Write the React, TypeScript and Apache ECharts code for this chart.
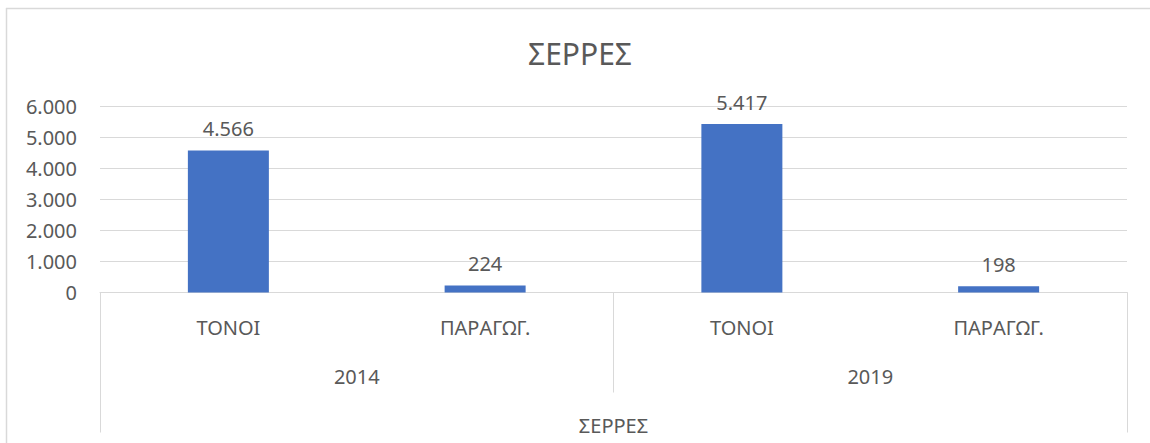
import React, { useEffect, useRef } from "react";
import * as echarts from "echarts";

const chartTitle = "ΣΕΡΡΕΣ";
const categories = ["ΤΟΝΟΙ", "ΠΑΡΑΓΩΓ.", "ΤΟΝΟΙ", "ΠΑΡΑΓΩΓ."];
const years = ["2014", "2019"];
const regions = ["ΣΕΡΡΕΣ"];
const values = [4566, 224, 5417, 198];

const TEXT = "#595959";
const LINE = "#D9D9D9";
const FONT = "Noto Sans";

const fmt = (n: number) => String(n).replace(/\B(?=(\d{3})+(?!\d))/g, ".");

export default function App() {
  const ref = useRef<HTMLDivElement>(null);
  useEffect(() => {
    if (!ref.current) return;
    const chart = echarts.init(ref.current, null, { renderer: "svg" });
    chart.setOption({
      animation: false,
      textStyle: { fontFamily: FONT, color: TEXT },
      graphic: [
        { type: "line", shape: { x1: 6.5, y1: 8, x2: 6.5, y2: 443 }, style: { stroke: LINE, lineWidth: 1.5 } },
        { type: "line", shape: { x1: 6, y1: 8.5, x2: 1150, y2: 8.5 }, style: { stroke: LINE, lineWidth: 1.5 } },
        {
          type: "text",
          x: 580,
          y: 53,
          style: {
            text: chartTitle,
            fontSize: 30,
            fontFamily: FONT,
            fill: TEXT,
            textAlign: "center",
            textVerticalAlign: "middle",
          },
        },
      ],
      grid: { left: 100, right: 23, top: 106, bottom: 150.5, containLabel: false },
      yAxis: {
        type: "value",
        min: 0,
        max: 6000,
        interval: 1000,
        axisLine: { show: false },
        axisTick: { show: false },
        axisLabel: { margin: 23, fontSize: 20, color: TEXT, fontFamily: FONT, formatter: (v: number) => fmt(v) },
        splitLine: { lineStyle: { color: LINE, width: 1 } },
      },
      xAxis: [
        {
          type: "category",
          data: categories,
          position: "bottom",
          axisLine: { show: true, lineStyle: { color: LINE, width: 1 } },
          axisTick: { show: false },
          axisLabel: { interval: 0, margin: 25, fontSize: 20, lineHeight: 20, color: TEXT, fontFamily: FONT },
        },
        {
          type: "category",
          data: years,
          position: "bottom",
          axisLine: { show: false },
          axisTick: { show: true, interval: 0, length: 100, lineStyle: { color: LINE, width: 1 } },
          axisLabel: { interval: 0, margin: 74, fontSize: 20, lineHeight: 20, color: TEXT, fontFamily: FONT },
        },
        {
          type: "category",
          data: regions,
          position: "bottom",
          axisLine: { show: false },
          axisTick: { show: true, interval: 0, length: 140, lineStyle: { color: LINE, width: 1 } },
          axisLabel: { interval: 0, margin: 123, fontSize: 20, lineHeight: 20, color: TEXT, fontFamily: FONT },
        },
      ],
      series: [
        {
          type: "bar",
          xAxisIndex: 0,
          data: values,
          barWidth: 81,
          itemStyle: { color: "#4472C4" },
          label: {
            show: true,
            position: "top",
            distance: 12,
            fontSize: 20,
            color: TEXT,
            fontFamily: FONT,
            formatter: (p: any) => fmt(p.value),
          },
        },
      ],
    });
    return () => chart.dispose();
  }, []);
  return <div ref={ref} style={{ position: "absolute", left: 0, top: 0, width: 1150, height: 443 }} />;
}
